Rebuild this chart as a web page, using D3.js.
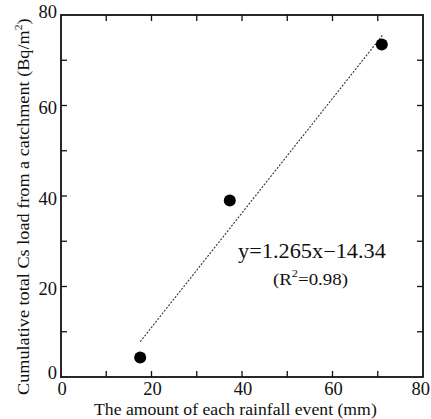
<!DOCTYPE html>
<html><head><meta charset="utf-8">
<script src="https://cdn.jsdelivr.net/npm/d3@7"></script>
<style>body{margin:0;background:#fff}svg text{font-family:"Liberation Serif","Times New Roman",serif;fill:#111}</style>
</head><body>
<script>
const rainfall = [17.5, 37.3, 70.9];
const csLoad = [4.3, 39.0, 73.5];
const fitSlope = 1.265, fitIntercept = -14.34;
const fitRange = [17.5, 71.2];
const xTickLabels = [0, 20, 40, 60, 80];
const yTickLabels = [0, 20, 40, 60, 80];
const minorTicks = [0, 10, 20, 30, 40, 50, 60, 70, 80];

const W = 431, H = 419;
const m = {l: 61, r: 8, t: 15, b: 42};
const svg = d3.select("body").append("svg").attr("width", W).attr("height", H);
const x = d3.scaleLinear().domain([0, 80]).range([m.l, W - m.r]);
const y = d3.scaleLinear().domain([0, 80]).range([H - m.b, m.t]);
const tl = 6;

function fitWidth(sel, left, baseline, width, rotate) {
  const w = sel.node().getBBox().width || width;
  const s = width / w;
  if (rotate) sel.attr("transform", `translate(${left},${baseline}) rotate(-90) scale(${s},1)`);
  else sel.attr("transform", `translate(${left},${baseline}) scale(${s},1)`);
}

const g = svg.append("g").attr("stroke", "#111").attr("stroke-width", 1.3);
minorTicks.forEach(v => {
  if (v > 0 && v < 80) {
    g.append("line").attr("x1", x(v)).attr("x2", x(v)).attr("y1", y(0)).attr("y2", y(0) - tl);
    g.append("line").attr("x1", x(v)).attr("x2", x(v)).attr("y1", y(80)).attr("y2", y(80) + tl);
    g.append("line").attr("y1", y(v)).attr("y2", y(v)).attr("x1", x(0)).attr("x2", x(0) + tl);
    g.append("line").attr("y1", y(v)).attr("y2", y(v)).attr("x1", x(80)).attr("x2", x(80) - tl);
  }
});
svg.append("rect").attr("x", x(0)).attr("y", y(80)).attr("width", x(80) - x(0)).attr("height", y(0) - y(80))
  .attr("fill", "none").attr("stroke", "#111").attr("stroke-width", 1.8);

xTickLabels.forEach(v => {
  const last = v === 80;
  svg.append("text").attr("x", last ? W - 1 : x(v) + 1).attr("y", y(0) + 18)
    .attr("text-anchor", last ? "end" : "middle")
    .attr("font-size", 18.5).text(v);
});
yTickLabels.forEach(v => {
  const dy = v === 80 ? 3 : (v === 0 ? 2 : 8.5);
  svg.append("text").attr("x", x(0) - 4).attr("y", y(v) + dy).attr("text-anchor", "end")
    .attr("font-size", 18.5).text(v);
});

svg.append("line")
  .attr("x1", x(fitRange[0])).attr("y1", y(fitSlope * fitRange[0] + fitIntercept))
  .attr("x2", x(fitRange[1])).attr("y2", y(fitSlope * fitRange[1] + fitIntercept))
  .attr("stroke", "#333").attr("stroke-width", 1.1).attr("stroke-dasharray", "2,1.5");

svg.selectAll("circle.pt").data(rainfall).enter().append("circle")
  .attr("cx", d => x(d)).attr("cy", (d, i) => y(csLoad[i])).attr("r", 6).attr("fill", "#000");

const eq = svg.append("text").attr("font-size", 20).text("y=1.265x\u221214.34");
fitWidth(eq, 238, 258, 148);
const r2 = svg.append("text").attr("font-size", 16);
r2.append("tspan").text("(R");
r2.append("tspan").attr("dy", -8).attr("font-size", 10.5).text("2");
r2.append("tspan").attr("dy", 8).text("=0.98)");
fitWidth(r2, 273, 285, 75);

const xt = svg.append("text").attr("font-size", 16.5).text("The amount of each rainfall event (mm)");
fitWidth(xt, 94, 415, 283);

const yt = svg.append("text").attr("font-size", 17);
yt.append("tspan").text("Cumulative total Cs load from a catchment (Bq/m");
yt.append("tspan").attr("dy", -7).attr("font-size", 11).text("2");
yt.append("tspan").attr("dy", 7).text(")");
fitWidth(yt, 29, 395, 377, true);
</script>
</body></html>
